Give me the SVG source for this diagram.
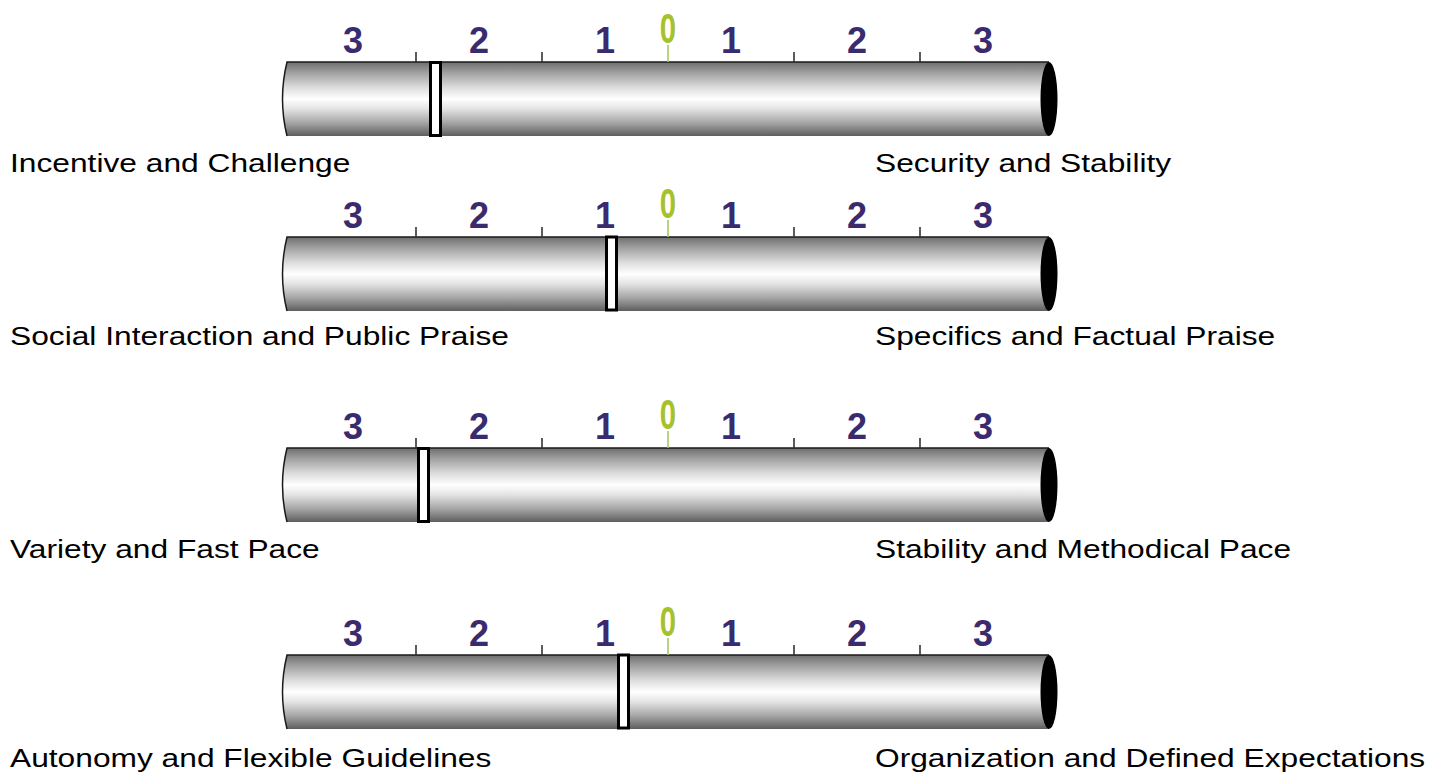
<svg xmlns="http://www.w3.org/2000/svg" xmlns:xlink="http://www.w3.org/1999/xlink" width="1445" height="781" viewBox="0 0 1445 781">
<style>
.lbl{font-family:"Liberation Sans",Arial,sans-serif;font-size:26px;fill:#000}
.num{font-family:"Liberation Sans",Arial,sans-serif;font-size:36px;font-weight:bold;fill:#3a2a6e;text-anchor:middle}
.zero{font-family:"Liberation Sans",Arial,sans-serif;font-size:42px;font-weight:bold;fill:#a6c22a;text-anchor:middle}
.tick{stroke:#333;stroke-width:1.6}
.tick0{stroke:#a8c860;stroke-width:1.6}
.mark{fill:#fff;stroke:#000;stroke-width:3}
</style>
<defs>
<linearGradient id="cyl" x1="0" y1="0" x2="0" y2="1">
<stop offset="0" stop-color="#6e6e6e"/>
<stop offset="0.15" stop-color="#a2a2a2"/>
<stop offset="0.35" stop-color="#dedede"/>
<stop offset="0.5" stop-color="#ffffff"/>
<stop offset="0.63" stop-color="#e4e4e4"/>
<stop offset="0.82" stop-color="#a6a6a6"/>
<stop offset="1" stop-color="#5e5e5e"/>
</linearGradient>
<g id="bar">
<path d="M287,0 L1049,0 L1049,74 L287,74 Q278,37 287,0 Z" fill="url(#cyl)"/>
<path d="M1049,0 L287,0 Q278,37 287,74" fill="none" stroke="#1a1a1a" stroke-width="1.5"/>
<ellipse cx="1049" cy="37" rx="8.5" ry="37" fill="#000"/>
<line class="tick" x1="416" y1="-10" x2="416" y2="0"/>
<line class="tick" x1="542" y1="-10" x2="542" y2="0"/>
<line class="tick" x1="794" y1="-10" x2="794" y2="0"/>
<line class="tick" x1="920" y1="-10" x2="920" y2="0"/>
<line class="tick0" x1="668" y1="-17" x2="668" y2="0"/>
</g>
</defs>

<g id="scale1" transform="translate(0,62)">
<use xlink:href="#bar"/>
<text class="num" x="353" y="-9">3</text><text class="num" x="479" y="-9">2</text><text class="num" x="605" y="-9">1</text>
<text class="zero" transform="translate(668,-19) scale(0.7,1)">0</text>
<text class="num" x="731" y="-9">1</text><text class="num" x="857" y="-9">2</text><text class="num" x="983" y="-9">3</text>
<rect class="mark" x="430.5" y="0.5" width="10" height="73"/>
<text class="lbl" transform="translate(10,110) scale(1.22,1)">Incentive and Challenge</text>
<text class="lbl" transform="translate(875,110) scale(1.22,1)">Security and Stability</text>
</g>

<g id="scale2" transform="translate(0,237)">
<use xlink:href="#bar"/>
<text class="num" x="353" y="-9">3</text><text class="num" x="479" y="-9">2</text><text class="num" x="605" y="-9">1</text>
<text class="zero" transform="translate(668,-19) scale(0.7,1)">0</text>
<text class="num" x="731" y="-9">1</text><text class="num" x="857" y="-9">2</text><text class="num" x="983" y="-9">3</text>
<rect class="mark" x="606.5" y="0" width="10" height="73"/>
<text class="lbl" transform="translate(10,108) scale(1.22,1)">Social Interaction and Public Praise</text>
<text class="lbl" transform="translate(875,108) scale(1.22,1)">Specifics and Factual Praise</text>
</g>

<g id="scale3" transform="translate(0,448)">
<use xlink:href="#bar"/>
<text class="num" x="353" y="-9">3</text><text class="num" x="479" y="-9">2</text><text class="num" x="605" y="-9">1</text>
<text class="zero" transform="translate(668,-19) scale(0.7,1)">0</text>
<text class="num" x="731" y="-9">1</text><text class="num" x="857" y="-9">2</text><text class="num" x="983" y="-9">3</text>
<rect class="mark" x="418.5" y="0.5" width="10" height="73"/>
<text class="lbl" transform="translate(10,110) scale(1.22,1)">Variety and Fast Pace</text>
<text class="lbl" transform="translate(875,110) scale(1.22,1)">Stability and Methodical Pace</text>
</g>

<g id="scale4" transform="translate(0,655)">
<use xlink:href="#bar"/>
<text class="num" x="353" y="-9">3</text><text class="num" x="479" y="-9">2</text><text class="num" x="605" y="-9">1</text>
<text class="zero" transform="translate(668,-19) scale(0.7,1)">0</text>
<text class="num" x="731" y="-9">1</text><text class="num" x="857" y="-9">2</text><text class="num" x="983" y="-9">3</text>
<rect class="mark" x="618.5" y="0" width="10" height="73"/>
<text class="lbl" transform="translate(10,112) scale(1.22,1)">Autonomy and Flexible Guidelines</text>
<text class="lbl" transform="translate(875,112) scale(1.22,1)">Organization and Defined Expectations</text>
</g>

<g id="connectors"></g>
</svg>
